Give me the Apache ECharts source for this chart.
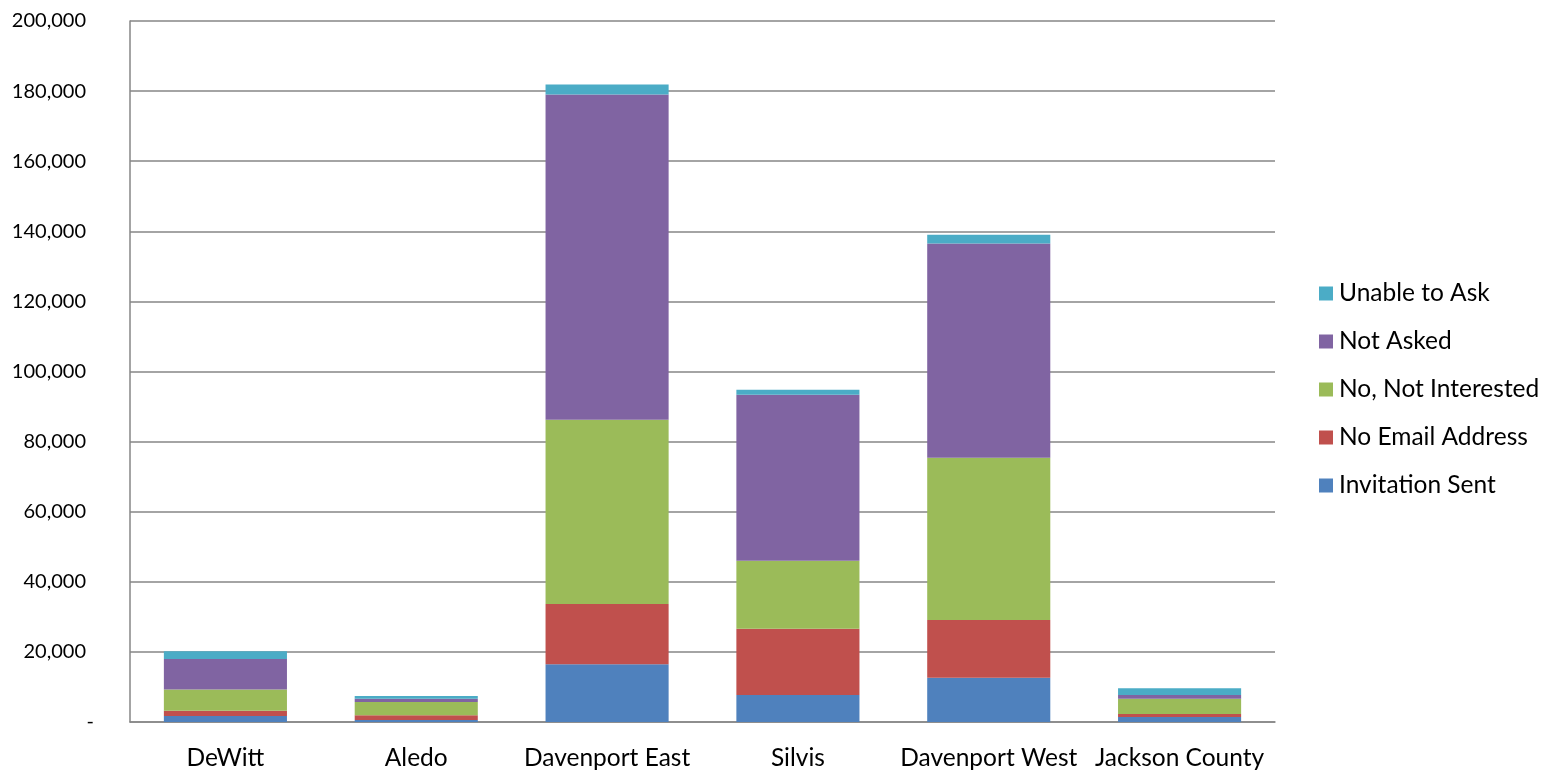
<!DOCTYPE html>
<html>
<head>
<meta charset="utf-8">
<script src="https://cdn.jsdelivr.net/npm/echarts@6/dist/echarts.min.js"></script>
<style>html,body{margin:0;padding:0;background:#fff}#c{width:1556px;height:779px}</style>
</head>
<body>
<div id="c"></div>
<script>
const categories = ['DeWitt', 'Aledo', 'Davenport East', 'Silvis', 'Davenport West', 'Jackson County'];
const invitationSent   = [1700, 600, 16500, 7700, 12600, 1400];
const noEmailAddress   = [1500, 1300, 17200, 18900, 16500, 900];
const noNotInterested  = [6100, 3800, 52500, 19400, 46300, 4300];
const notAsked         = [8700, 900, 92800, 47400, 61100, 1100];
const unableToAsk      = [2200, 800, 2900, 1400, 2500, 1900];
const yTicks = [0, 20000, 40000, 60000, 80000, 100000, 120000, 140000, 160000, 180000, 200000];

const FONT = 'Lato';
const colors = {
  'Invitation Sent': '#4F81BD',
  'No Email Address': '#C0504D',
  'No, Not Interested': '#9BBB59',
  'Not Asked': '#8064A2',
  'Unable to Ask': '#4BACC6'
};
const seriesDefs = [
  ['Invitation Sent', invitationSent],
  ['No Email Address', noEmailAddress],
  ['No, Not Interested', noNotInterested],
  ['Not Asked', notAsked],
  ['Unable to Ask', unableToAsk]
];

const chart = echarts.init(document.getElementById('c'), null, {renderer: 'canvas'});
chart.setOption({
  animation: false,
  backgroundColor: '#fff',
  grid: {left: 130, right: 281, top: 21, bottom: 57, containLabel: false},
  legend: {
    orient: 'vertical',
    left: 1314,
    top: 'middle',
    padding: [7, 5, 5, 5],
    data: ['Unable to Ask', 'Not Asked', 'No, Not Interested', 'No Email Address', 'Invitation Sent'],
    itemWidth: 14,
    itemHeight: 14,
    itemGap: 23,
    icon: 'rect',
    textStyle: {fontFamily: FONT, fontSize: 24.5, color: '#000', padding: [0, 0, 0, 1]}
  },
  xAxis: {
    type: 'category',
    data: categories,
    axisLine: {lineStyle: {color: '#868686', width: 1.5}},
    axisTick: {show: false},
    axisLabel: {fontFamily: FONT, fontSize: 24.5, color: '#000', margin: 24, interval: 0}
  },
  yAxis: {
    type: 'value',
    min: 0,
    max: 200000,
    interval: 20000,
    axisLine: {show: true, lineStyle: {color: '#868686', width: 1.5}},
    axisTick: {show: false},
    splitLine: {lineStyle: {color: '#868686', width: 1.5}},
    axisLabel: {
      fontFamily: FONT, fontSize: 20, color: '#000', margin: 36,
      formatter: function (v) {
        if (v === 0) return '{d|-}';
        return '{n|' + v.toLocaleString('en-US') + '}';
      },
      rich: {
        n: {fontFamily: FONT, fontSize: 20, color: '#000', padding: [0, 8, 0, 0]},
        d: {fontFamily: FONT, fontSize: 20, color: '#000', padding: [0, 0, 0, 0]}
      }
    }
  },
  series: seriesDefs.map(([name, data]) => ({
    name: name,
    type: 'bar',
    stack: 'total',
    data: data,
    barCategoryGap: '35.5%',
    itemStyle: {color: colors[name]}
  }))
});
</script>
</body>
</html>
